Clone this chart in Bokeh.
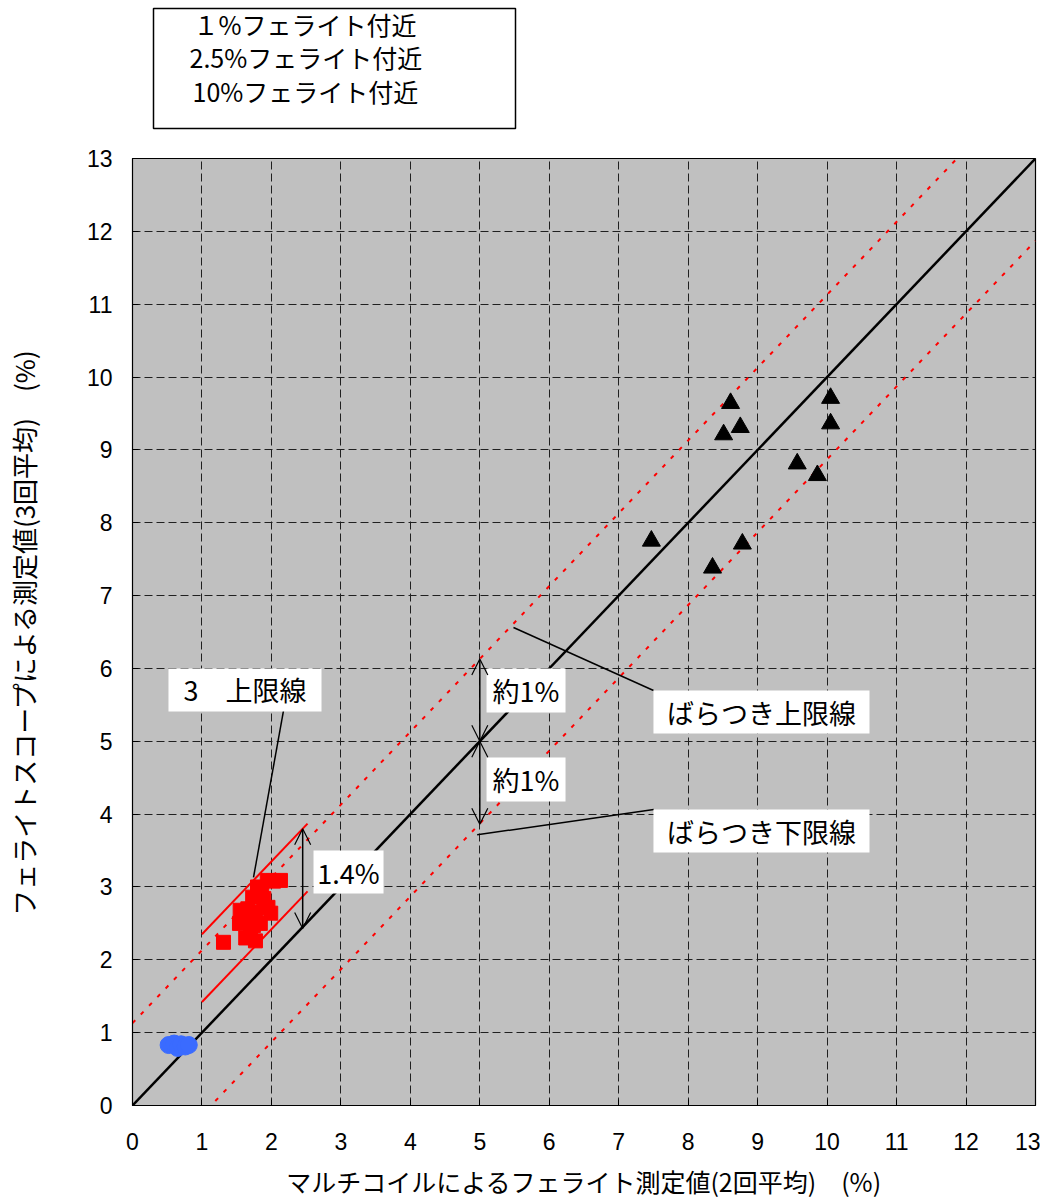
from bokeh.plotting import figure
from bokeh.layouts import column
from bokeh.models import Range1d, FixedTicker, Arrow, OpenHead
from bokeh.embed import file_html
from bokeh.resources import INLINE
from bokeh.core.properties import value

# ---------------- data ----------------
ticks = list(range(0, 14))

# 1% ferrite (blue circles)
low_x = [0.52, 0.60, 0.65, 0.70, 0.76, 0.81]
low_y = [0.83, 0.85, 0.79, 0.84, 0.81, 0.83]

# 2.5% ferrite (red squares)
mid_x = [1.31, 1.94, 2.13, 2.03, 1.86, 1.80, 1.73, 1.89, 1.55, 1.66, 1.77, 1.99, 1.95,
         1.54, 1.64, 1.74, 1.84, 1.63, 1.77, 1.70]
mid_y = [2.24, 3.09, 3.09, 3.08, 2.96, 3.00, 2.86, 2.84, 2.68, 2.70, 2.65, 2.64, 2.72,
         2.50, 2.55, 2.47, 2.50, 2.30, 2.26, 2.38]

# 10% ferrite (black triangles)
high_x = [8.61, 8.75, 8.51, 10.05, 10.05, 9.57, 9.86, 7.47, 8.78, 8.35]
high_y = [9.64, 9.31, 9.21, 9.71, 9.36, 8.81, 8.65, 7.75, 7.71, 7.38]

legend_labels = ["１%フェライト付近", "2.5%フェライト付近", "10%フェライト付近"]

ideal_x = [0, 13]
spread = 1.13          # ばらつき上限/下限 offset
band_x = [1.0, 2.52]   # band of the 2.5% group
band_upper = 1.35
band_lower = 0.42

x_title = "マルチコイルによるフェライト測定値(2回平均)　(%)"
y_title = "フェライトスコープによる測定値(3回平均)　(%)"

JP = "Noto Sans CJK JP"
NUM = "Liberation Sans"

# ---------------- legend panel (separate svg figure above, pixel-unit ranges) ----------------
lg = figure(width=1040, height=140, frame_width=903, frame_height=140,
            x_range=Range1d(0, 903), y_range=Range1d(0, 140),
            x_axis_type=None, y_axis_type=None,
            output_backend="svg", toolbar_location=None,
            min_border_left=132, min_border_right=5, min_border_top=0, min_border_bottom=0)
lg.grid.visible = False
lg.background_fill_color = "white"
lg.border_fill_color = "white"
lg.outline_line_color = None
lg.quad(left=[21], right=[383], top=[132], bottom=[12],
        fill_color="white", line_color="black", line_width=1.5)
lg.text(x=[61, 57, 60], y=[117, 84, 50], text=legend_labels,
        text_font=value(JP), text_font_size="25px",
        text_align="left", text_baseline="middle", text_color="black")

# ---------------- main figure ----------------
p = figure(width=1040, height=1058, frame_width=903, frame_height=947,
           x_range=Range1d(0, 13), y_range=Range1d(0, 13),
           output_backend="svg", toolbar_location=None,
           min_border_left=132, min_border_right=5, min_border_top=18, min_border_bottom=93)
p.background_fill_color = "#C0C0C0"
p.border_fill_color = "white"
p.outline_line_color = "black"
p.outline_line_width = 1.2

for ax in (p.xaxis[0], p.yaxis[0]):
    ax.ticker = FixedTicker(ticks=ticks)
    ax.major_tick_in = 6
    ax.major_tick_out = 0
    ax.minor_tick_line_color = None
    ax.axis_line_color = "black"
    ax.major_label_text_font = NUM
    ax.major_label_text_font_size = "23px"
    ax.major_label_text_color = "black"
    ax.axis_label_text_font = JP
    ax.axis_label_text_font_style = "normal"
    ax.axis_label_text_color = "black"

p.xaxis.axis_label = x_title
p.yaxis.axis_label = y_title
p.xaxis.axis_label_text_font_size = "25px"
p.yaxis.axis_label_text_font_size = "26px"
p.xaxis.major_label_standoff = 27
p.yaxis.major_label_standoff = 20
p.xaxis.axis_label_standoff = 10
p.yaxis.axis_label_standoff = 42

for g in (p.xgrid[0], p.ygrid[0]):
    g.ticker = FixedTicker(ticks=ticks)
    g.grid_line_color = "#202020"
    g.grid_line_dash = "8 4"
    g.grid_line_width = 1

# ideal and spread lines
p.line(ideal_x, ideal_x, line_color="black", line_width=2.5)
p.line(ideal_x, [v + spread for v in ideal_x], line_color="red", line_width=2, line_dash="4 8")
p.line(ideal_x, [v - spread for v in ideal_x], line_color="red", line_width=2, line_dash="4 8")

# band lines
p.line(band_x, [v + band_upper for v in band_x], line_color="red", line_width=2)
p.line(band_x, [v + band_lower for v in band_x], line_color="red", line_width=2)

# markers
p.scatter(low_x, low_y, marker="circle", size=17, fill_color="#3A6BFF", line_color="#3A6BFF")
p.scatter(mid_x, mid_y, marker="square", size=14, fill_color="red", line_color="red")
p.scatter(high_x, high_y, marker="triangle", size=18, fill_color="black", line_color="black")

# leader lines
p.segment(x0=[2.174, 5.485, 4.962], y0=[5.422, 6.561, 3.716],
          x1=[1.742, 7.501, 7.505], y1=[3.130, 5.697, 4.063],
          line_color="black", line_width=1.5)

# arrows
for (xs, ys, xe, ye) in [(2.45, 3.80, 2.45, 2.43), (5.0, 6.13, 5.0, 5.0), (5.0, 5.0, 5.0, 3.86)]:
    p.add_layout(Arrow(start=OpenHead(size=16, line_width=1.2, line_color="black"),
                       end=OpenHead(size=16, line_width=1.2, line_color="black"),
                       x_start=xs, y_start=ys, x_end=xe, y_end=ye,
                       line_color="black", line_width=1.5))

# annotation boxes
box_l = [0.518, 2.606, 5.097, 5.097, 7.50, 7.50]
box_r = [2.721, 3.614, 6.234, 6.234, 10.61, 10.61]
box_t = [6.00, 3.50, 6.00, 4.777, 5.697, 4.063]
box_b = [5.408, 2.91, 5.395, 4.173, 5.106, 3.473]
box_txt = ["3　上限線", "1.4%", "約1%", "約1%", "ばらつき上限線", "ばらつき下限線"]
p.quad(left=box_l, right=box_r, top=box_t, bottom=box_b, fill_color="white", line_color=None)
p.text(x=[(a + b) / 2 for a, b in zip(box_l, box_r)],
       y=[(a + b) / 2 for a, b in zip(box_t, box_b)],
       text=box_txt, text_font=value(JP), text_font_size="27px",
       text_align="center", text_baseline="middle", text_color="black")

layout = column(lg, p, spacing=0)
open("out.html", "w").write(file_html(layout, INLINE))
